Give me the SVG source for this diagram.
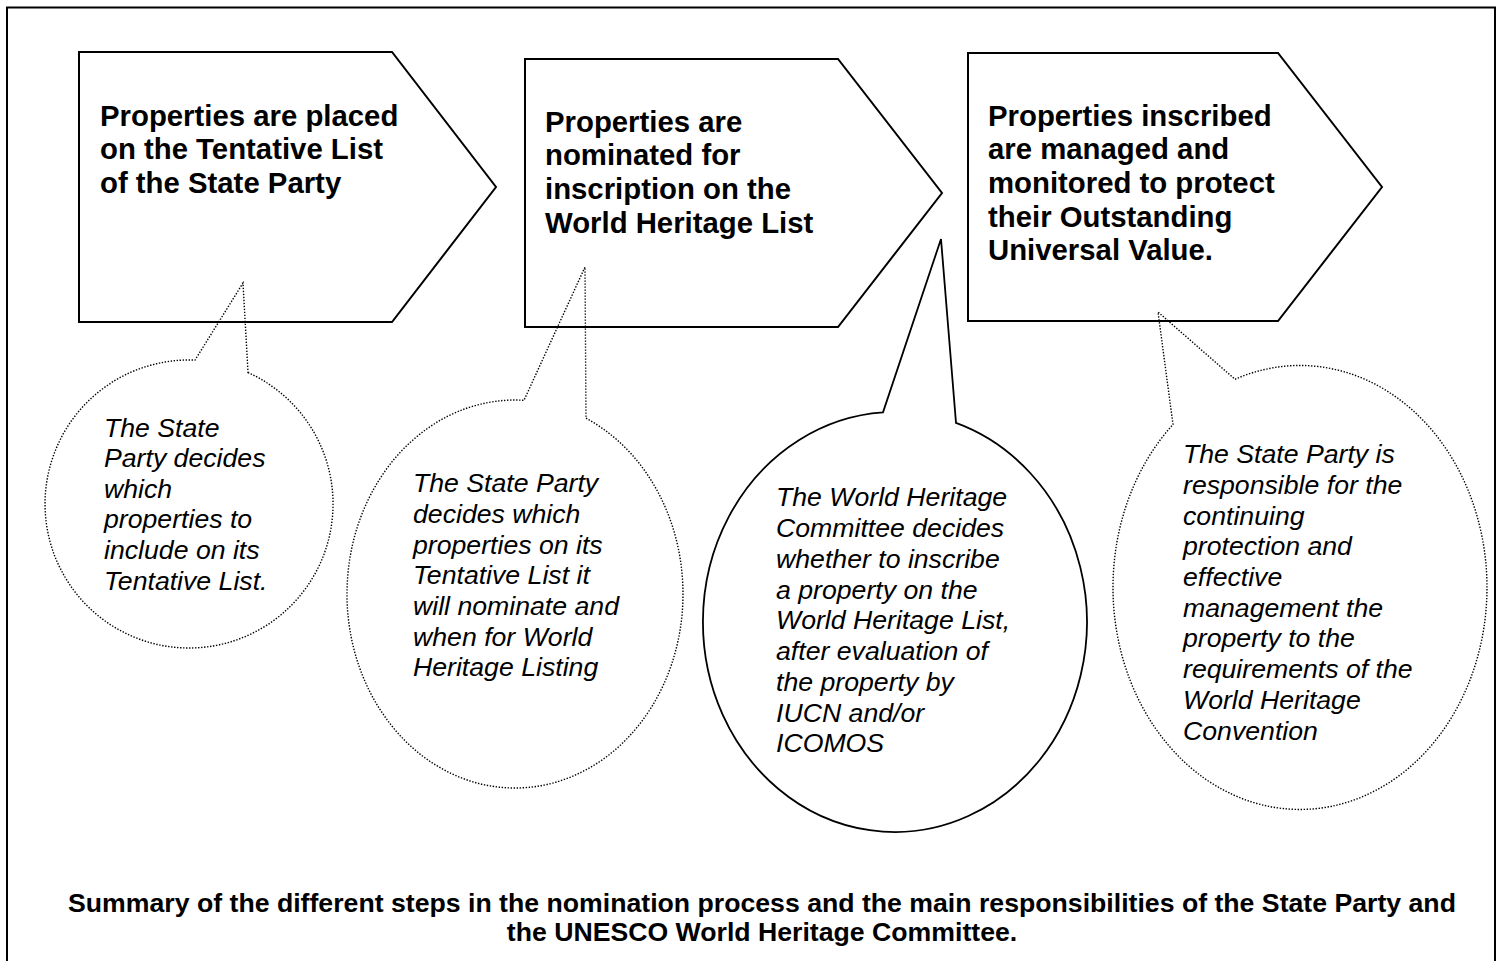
<svg xmlns="http://www.w3.org/2000/svg" width="1503" height="961" viewBox="0 0 1503 961">
<style>
.frame{fill:none;stroke:#000;stroke-width:2}
.step{fill:none;stroke:#000;stroke-width:2;stroke-linejoin:miter}
.dot{fill:none;stroke:#000;stroke-width:1.4;stroke-dasharray:1.4 1.6}
.solid{fill:none;stroke:#000;stroke-width:1.8}
.h{font-family:"Liberation Sans",Arial,sans-serif;font-weight:bold;font-size:29.33px;fill:#000}
.b{font-family:"Liberation Sans",Arial,sans-serif;font-style:italic;font-size:26.67px;fill:#000}
.cap{font-family:"Liberation Sans",Arial,sans-serif;font-weight:bold;font-size:26.67px;fill:#000;text-anchor:middle}
</style>
<rect width="1503" height="961" fill="#fff"/>
<rect class="frame" x="7" y="7.5" width="1488" height="980"/>

<g id="bubble1">
<path class="dot" d="M248,372.6 A144,144 0 1 1 195,360.1 L243,283 Z"/>
<text class="b"><tspan x="104" y="436.5">The State</tspan><tspan x="104" y="467">Party decides</tspan><tspan x="104" y="497.5">which</tspan><tspan x="104" y="528">properties to</tspan><tspan x="104" y="559">include on its</tspan><tspan x="104" y="589.5">Tentative List.</tspan></text>
</g>

<g id="bubble2">
<path class="dot" d="M586,418.2 A168,194 0 1 1 524,400.3 L585,267 Z"/>
<text class="b"><tspan x="413" y="492">The State Party</tspan><tspan x="413" y="523">decides which</tspan><tspan x="413" y="553.5">properties on its</tspan><tspan x="413" y="584">Tentative List it</tspan><tspan x="413" y="615">will nominate and</tspan><tspan x="413" y="645.5">when for World</tspan><tspan x="413" y="676">Heritage Listing</tspan></text>
</g>

<g id="bubble3">
<path class="solid" d="M956,422.9 A192,210 0 1 1 883,412.4 L941,239 Z"/>
<text class="b"><tspan x="776" y="506">The World Heritage</tspan><tspan x="776" y="537">Committee decides</tspan><tspan x="776" y="568">whether to inscribe</tspan><tspan x="776" y="598.5">a property on the</tspan><tspan x="776" y="629">World Heritage List,</tspan><tspan x="776" y="660">after evaluation of</tspan><tspan x="776" y="691">the property by</tspan><tspan x="776" y="721.5">IUCN and/or</tspan><tspan x="776" y="752">ICOMOS</tspan></text>
</g>

<g id="bubble4">
<path class="dot" d="M1235,379.3 A187,222 0 1 1 1173,424.5 L1158,312 Z"/>
<text class="b"><tspan x="1183" y="462.5">The State Party is</tspan><tspan x="1183" y="493.5">responsible for the</tspan><tspan x="1183" y="524.5">continuing</tspan><tspan x="1183" y="555">protection and</tspan><tspan x="1183" y="586">effective</tspan><tspan x="1183" y="616.5">management the</tspan><tspan x="1183" y="647">property to the</tspan><tspan x="1183" y="678">requirements of the</tspan><tspan x="1183" y="708.5">World Heritage</tspan><tspan x="1183" y="739.5">Convention</tspan></text>
</g>

<g id="step1">
<polygon class="step" points="79,52 392,52 496,187 392,322 79,322"/>
<text class="h"><tspan x="100" y="125.5">Properties are placed</tspan><tspan x="100" y="159.2">on the Tentative List</tspan><tspan x="100" y="192.9">of the State Party</tspan></text>
</g>

<g id="step2">
<polygon class="step" points="525,59 838,59 942,193 838,327 525,327"/>
<text class="h"><tspan x="545" y="131.5">Properties are</tspan><tspan x="545" y="165.2">nominated for</tspan><tspan x="545" y="198.9">inscription on the</tspan><tspan x="545" y="232.6">World Heritage List</tspan></text>
</g>

<g id="step3">
<polygon class="step" points="968,53 1278,53 1382,187 1278,321 968,321"/>
<text class="h"><tspan x="988" y="125.5">Properties inscribed</tspan><tspan x="988" y="159.2">are managed and</tspan><tspan x="988" y="192.9">monitored to protect</tspan><tspan x="988" y="226.6">their Outstanding</tspan><tspan x="988" y="260.3">Universal Value.</tspan></text>
</g>

<g id="connectors"/>

<g id="caption">
<text class="cap"><tspan x="762" y="912">Summary of the different steps in the nomination process and the main responsibilities of the State Party and</tspan><tspan x="762" y="941">the UNESCO World Heritage Committee.</tspan></text>
</g>
</svg>
